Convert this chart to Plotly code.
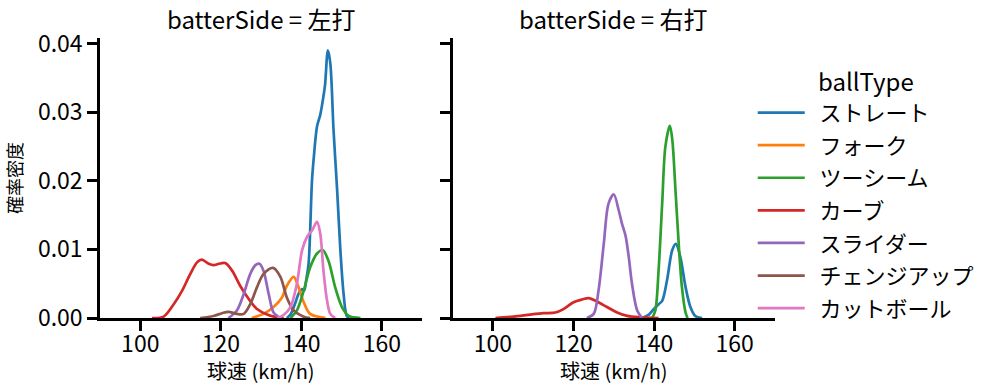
import plotly.graph_objects as go
from plotly.subplots import make_subplots

# ---------------- data ----------------
ball_types = ["ストレート", "フォーク", "ツーシーム", "カーブ", "スライダー", "チェンジアップ", "カットボール"]
colors = ["#1f77b4", "#ff7f0e", "#2ca02c", "#d62728", "#9467bd", "#8c564b", "#e377c2"]
panel_titles = ["batterSide = 左打", "batterSide = 右打"]
x_label = "球速 (km/h)"
y_label = "確率密度"
legend_title = "ballType"

# left panel (左打)
L_straight_x = [136.4, 137.3, 138.5, 139.3, 140.2, 140.7, 141.2, 141.8, 142.65, 143.1, 143.9, 144.7, 145.5, 145.9, 146.6, 147.2, 148.0, 148.9, 149.7, 150.5, 151.3, 152.0]
L_straight_y = [0.0, 0.0005, 0.0022, 0.0035, 0.0042, 0.0040, 0.0055, 0.0079, 0.0200, 0.0234, 0.0279, 0.0296, 0.0323, 0.0340, 0.0390, 0.0371, 0.0274, 0.0186, 0.0099, 0.0035, 0.0003, 0.0]
L_fork_x = [127.7, 130.6, 133.1, 135.2, 136.4, 138.1, 139.3, 140.6, 142.2, 146.0]
L_fork_y = [0.0, 0.0006, 0.0016, 0.0030, 0.0047, 0.0060, 0.0045, 0.0023, 0.0006, 0.0]
L_two_x = [137.3, 138.9, 140.6, 142.2, 143.9, 145.3, 146.7, 148.4, 150.1, 151.8, 154.7]
L_two_y = [0.0, 0.0011, 0.0040, 0.0074, 0.0094, 0.0099, 0.0084, 0.0045, 0.0016, 0.0003, 0.0]
L_curve_x = [102.9, 105.8, 108.3, 110.4, 112.4, 114.1, 115.3, 117.0, 118.2, 119.5, 121.1, 122.8, 124.8, 126.9, 129.0, 131.5, 134.0, 135.6]
L_curve_y = [0.0, 0.0002, 0.0020, 0.0040, 0.0064, 0.0081, 0.0085, 0.0079, 0.0077, 0.0079, 0.0080, 0.0069, 0.0047, 0.0028, 0.0013, 0.0005, 0.0001, 0.0]
L_slider_x = [121.9, 124.0, 125.7, 127.3, 128.6, 129.6, 130.6, 131.9, 133.1, 134.8]
L_slider_y = [0.0, 0.0011, 0.0035, 0.0064, 0.0077, 0.0079, 0.0069, 0.0035, 0.0008, 0.0]
L_change_x = [114.9, 118.2, 120.3, 121.9, 124.0, 125.7, 127.3, 129.0, 130.6, 133.0, 134.8, 136.4, 138.1, 140.6, 142.2]
L_change_y = [0.0, 0.0003, 0.0007, 0.0009, 0.0006, 0.0006, 0.0020, 0.0045, 0.0064, 0.0073, 0.0060, 0.0030, 0.0011, 0.0002, 0.0]
L_cut_x = [134.0, 135.5, 137.3, 138.9, 140.2, 141.4, 142.7, 143.9, 144.7, 145.5, 146.4, 147.2, 148.4]
L_cut_y = [0.0, 0.0004, 0.0016, 0.0050, 0.0099, 0.0118, 0.0128, 0.0140, 0.0123, 0.0069, 0.0025, 0.0006, 0.0]

# right panel (右打)
R_straight_x = [137.0, 138.7, 139.9, 141.1, 142.0, 143.2, 144.5, 145.4, 146.5, 147.8, 149.0, 150.2, 151.9]
R_straight_y = [0.0, 0.0005, 0.0013, 0.0020, 0.0025, 0.0055, 0.0099, 0.0108, 0.0089, 0.0045, 0.0016, 0.0003, 0.0]
R_two_x = [139.5, 140.3, 141.1, 142.0, 142.8, 143.9, 144.5, 145.3, 146.1, 146.9, 147.8, 148.3]
R_two_y = [0.0, 0.0011, 0.0069, 0.0167, 0.0250, 0.0280, 0.0260, 0.0186, 0.0108, 0.0045, 0.0008, 0.0]
R_curve_x = [100.6, 105.1, 109.3, 112.6, 115.5, 117.5, 120.0, 122.1, 123.8, 125.8, 128.3, 130.8, 133.3, 136.6, 141.1]
R_curve_y = [0.0, 0.0002, 0.0005, 0.0007, 0.0008, 0.0013, 0.0023, 0.0027, 0.0029, 0.0024, 0.0016, 0.0008, 0.0003, 0.0001, 0.0]
R_slider_x = [123.3, 125.0, 126.2, 127.5, 128.7, 130.0, 131.2, 132.0, 132.9, 133.7, 134.5, 135.8, 137.0]
R_slider_y = [0.0, 0.0006, 0.0040, 0.0108, 0.0167, 0.0180, 0.0157, 0.0138, 0.0120, 0.0089, 0.0050, 0.0011, 0.0]

x_ticks = [100, 120, 140, 160]
y_ticks = [0.00, 0.01, 0.02, 0.03, 0.04]

left_series = {
    "ストレート": (L_straight_x, L_straight_y),
    "フォーク": (L_fork_x, L_fork_y),
    "ツーシーム": (L_two_x, L_two_y),
    "カーブ": (L_curve_x, L_curve_y),
    "スライダー": (L_slider_x, L_slider_y),
    "チェンジアップ": (L_change_x, L_change_y),
    "カットボール": (L_cut_x, L_cut_y),
}
right_series = {
    "ストレート": (R_straight_x, R_straight_y),
    "ツーシーム": (R_two_x, R_two_y),
    "カーブ": (R_curve_x, R_curve_y),
    "スライダー": (R_slider_x, R_slider_y),
}

FONT = "Noto Sans CJK JP"
GAP = "\u00a0\u00a0"  # wider gap between legend line sample and label

fig = make_subplots(rows=1, cols=2, shared_yaxes=True, horizontal_spacing=0.05)

for col, series in ((1, left_series), (2, right_series)):
    for name, col_hex in zip(ball_types, colors):
        if name not in series:
            continue
        xs, ys = series[name]
        fig.add_trace(
            go.Scatter(
                x=xs, y=ys, mode="lines", name=GAP + name,
                line=dict(color=col_hex, width=2.7, shape="spline", smoothing=0.9),
                legendgroup=name, showlegend=(col == 1),
            ),
            row=1, col=col,
        )

axis_common = dict(
    showline=True, linecolor="black", linewidth=2.5, ticks="outside",
    ticklen=10, tickwidth=2.5, tickcolor="black", showgrid=False, zeroline=False,
    mirror=False, tickfont=dict(size=23, family=FONT, color="black"),
)

fig.update_xaxes(range=[90, 170], tickvals=x_ticks, ticklabelstandoff=-6, **axis_common)
fig.update_yaxes(range=[0, 0.0408], tickvals=y_ticks, tickformat=".2f", **axis_common)
fig.update_yaxes(title=dict(text=y_label, font=dict(size=18, family=FONT, color="black"), standoff=11), row=1, col=1)
fig.update_yaxes(showticklabels=False, row=1, col=2)

fig.layout.xaxis.domain = [0.0, 0.4772]
fig.layout.xaxis2.domain = [0.5225, 1.0]

for i, t in enumerate(panel_titles):
    dom = fig.layout.xaxis.domain if i == 0 else fig.layout.xaxis2.domain
    cx = (dom[0] + dom[1]) / 2
    fig.add_annotation(
        text=t, x=cx, y=1, xref="paper", yref="paper",
        xanchor="center", yanchor="bottom", yshift=0, showarrow=False,
        font=dict(size=24, family=FONT, color="black"),
    )
    fig.add_annotation(
        text=x_label, x=cx, y=-0.186, xref="paper", yref="paper",
        xanchor="center", yanchor="middle", showarrow=False,
        font=dict(size=20, family=FONT, color="black"),
    )

# legend title
fig.add_annotation(
    text=legend_title, x=1.135, y=0.85, xref="paper", yref="paper",
    xanchor="center", yanchor="middle", showarrow=False,
    font=dict(size=24, family=FONT, color="black"),
)

fig.update_layout(
    width=999, height=391,
    margin=dict(l=100, r=224, t=38, b=73),
    plot_bgcolor="white", paper_bgcolor="white",
    font=dict(family=FONT, color="black"),
    legend=dict(
        font=dict(size=22, family=FONT), x=0.967, xanchor="left",
        y=0.808, yanchor="top", tracegroupgap=1, itemwidth=47,
        bgcolor="rgba(0,0,0,0)",
    ),
)

fig.write_html("out.html", config={"displayModeBar": False},
               post_script="document.body.style.margin='0';")
